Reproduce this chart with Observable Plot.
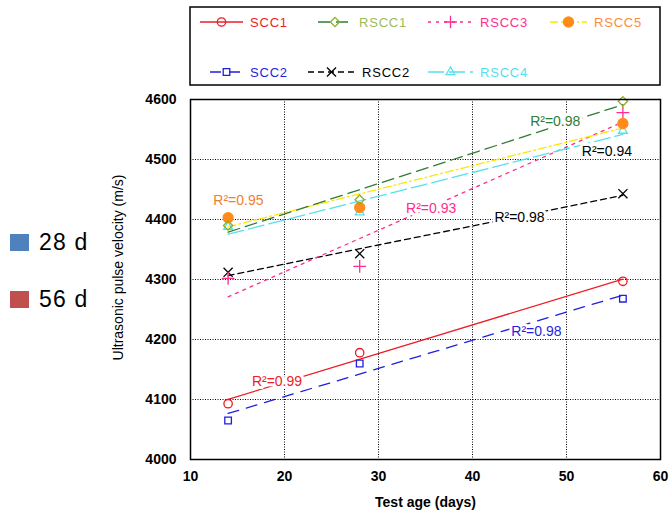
<!DOCTYPE html>
<html><head><meta charset="utf-8">
<script src="https://cdn.jsdelivr.net/npm/d3@7"></script>
<script src="https://cdn.jsdelivr.net/npm/@observablehq/plot@0.6"></script>
<style>
body{margin:0;background:#fff;}
#wrap{position:relative;width:671px;height:518px;font-family:"Liberation Sans",Arial,sans-serif;overflow:hidden;}
#chart{position:absolute;left:0;top:0;}
#legend{position:absolute;left:189px;top:6px;}
.age{position:absolute;left:10px;display:flex;align-items:center;font-family:"Liberation Sans",Arial,sans-serif;font-size:23px;letter-spacing:1.2px;}
.age span.sw{display:inline-block;width:19px;height:17px;margin-right:10px;}
</style></head><body>
<div id="wrap"><div id="chart"></div><svg id="legend" width="473" height="82"></svg></div>
<script>
// ---- data ----
const ages = [14, 28, 56];
const seriesNames = ["SCC1", "RSCC1", "RSCC3", "RSCC5", "SCC2", "RSCC2", "RSCC4"];
const scc1  = [4093, 4178, 4297];
const rscc1 = [4390, 4433, 4597];
const rscc3 = [4302, 4322, 4578];
const rscc5 = [4403, 4420, 4560];
const scc2  = [4065, 4160, 4268];
const rscc2 = [4312, 4343, 4443];
const rscc4 = [4388, 4412, 4548];
const seriesValues = [scc1, rscc1, rscc3, rscc5, scc2, rscc2, rscc4];

const r2Text = ["R²=0.99", "R²=0.98", "R²=0.93", "R²=0.95", "R²=0.98", "R²=0.98", "R²=0.94"];
const r2Series = ["SCC1", "RSCC1", "RSCC3", "RSCC5", "SCC2", "RSCC2", "RSCC4"];
const r2Age = [19.2, 48.8, 35.6, 15.1, 46.8, 45.0, 54.3];
const r2Vel = [4130, 4563, 4418, 4432, 4213, 4403, 4513];

const xTicks = [10, 20, 30, 40, 50, 60];
const yTicks = [4000, 4100, 4200, 4300, 4400, 4500, 4600];
const ageLabels = ["28 d", "56 d"];
const ageColors = ["#4f81bd", "#c0504d"];

// ---- styles ----
const style = {
  SCC1:  {line: "#ee1c25", mark: "#ee1c25", text: "#ee1c25", dash: null,       sym: "circle",   fill: "none", r2: "#ee1c25"},
  RSCC1: {line: "#2e7d32", mark: "#8fae2a", text: "#9bbb59", dash: "12,6",     sym: "diamond2", fill: "none", r2: "#2e7d32"},
  RSCC3: {line: "#ff2d8f", mark: "#ff2d8f", text: "#ff2d8f", dash: "3,5",      sym: "plus",     fill: "none", r2: "#ff2d8f"},
  RSCC5: {line: "#ffe600", mark: "#ff8c1a", text: "#ff8c3a", dash: "8,3,2,3",  sym: "circle",   fill: "#ff8c1a", r2: "#f07f30"},
  SCC2:  {line: "#1f1fe0", mark: "#1f1fe0", text: "#1f1fe0", dash: "11,8",     sym: "square2",  fill: "none", r2: "#1f1fe0"},
  RSCC2: {line: "#000000", mark: "#000000", text: "#000000", dash: "6,4",      sym: "times",    fill: "none", r2: "#000000"},
  RSCC4: {line: "#55e0f0", mark: "#55e0f0", text: "#55e0f0", dash: "16,5",     sym: "triangle2",fill: "none", r2: "#000000"}
};

const rows = [];
seriesNames.forEach((s, i) => ages.forEach((a, j) => rows.push({series: s, age: a, v: seriesValues[i][j]})));
const labels = r2Text.map((t, i) => ({text: t, series: r2Series[i], age: r2Age[i], v: r2Vel[i]}));
labels.forEach(d => { d.color = style[d.series].r2; });

const marks = [
  Plot.gridX(xTicks, {stroke: "black", strokeOpacity: 1, strokeDasharray: "1,1.5", strokeWidth: 1}),
  Plot.gridY(yTicks, {stroke: "black", strokeOpacity: 1, strokeDasharray: "1,1.5", strokeWidth: 1}),
];
const order = ["SCC1", "SCC2", "RSCC2", "RSCC3", "RSCC4", "RSCC5", "RSCC1"];
for (const s of order) {
  const st = style[s];
  marks.push(Plot.linearRegressionY(rows.filter(d => d.series === s), {
    x: "age", y: "v", stroke: st.line, strokeWidth: 1.3, ci: 0,
    strokeDasharray: st.dash == null ? undefined : st.dash
  }));
}
marks.push(Plot.text(labels, {x: "age", y: "v", text: "text", fill: "color", stroke: "white", strokeWidth: 6,
  fontSize: 14, letterSpacing: 0.5, fontFamily: "Liberation Sans, Arial, sans-serif"}));
for (const s of order) {
  const st = style[s];
  marks.push(Plot.dot(rows.filter(d => d.series === s), {
    x: "age", y: "v", symbol: st.sym, stroke: st.mark, fill: st.fill,
    r: st.fill === "none" ? 4.2 : 5, strokeWidth: 1.3
  }));
}
marks.push(Plot.frame({stroke: "black", strokeWidth: 1.5}));
marks.push(Plot.axisX(xTicks, {tickSize: 0, tickPadding: 12, fontWeight: "bold", fontSize: 14, tickFormat: d => String(d), label: null}));
marks.push(Plot.axisY(yTicks, {tickSize: 0, tickPadding: 14, fontWeight: "bold", fontSize: 14, tickFormat: d => String(d), label: null}));
marks.push(Plot.text(["Test age (days)"], {frameAnchor: "bottom", dy: 47, fontWeight: "bold", fontSize: 14}));
marks.push(Plot.text(["Ultrasonic pulse velocity (m/s)"], {frameAnchor: "left", textAnchor: "middle", dx: -72, dy: -12, rotate: -90,
  fontSize: 14, fontFamily: "Liberation Sans Narrow, Liberation Sans, Arial, sans-serif"}));

const chart = Plot.plot({
  width: 671, height: 518,
  marginLeft: 190, marginRight: 11, marginTop: 99, marginBottom: 59,
  x: {domain: [10, 60]},
  y: {domain: [4000, 4600]},
  style: {fontFamily: "Liberation Sans, Arial, sans-serif", fontSize: "13px", background: "white", color: "black"},
  marks
});
document.getElementById("chart").appendChild(chart);

// ---- series legend box ----
const lg = d3.select("#legend");
lg.append("rect").attr("x", 1).attr("y", 1).attr("width", 470).attr("height", 78)
  .attr("fill", "white").attr("stroke", "black").attr("stroke-width", 1.5);
const slots = [
  {x0: 11, x1: 54, y: 16}, {x0: 129, x1: 163, y: 16}, {x0: 239, x1: 284, y: 16}, {x0: 361, x1: 398, y: 16},
  {x0: 21, x1: 54, y: 66}, {x0: 119, x1: 166, y: 66}, {x0: 239, x1: 284, y: 66}
];
const symMap = {circle: d3.symbolCircle, diamond2: d3.symbolDiamond2, plus: d3.symbolPlus,
  square2: d3.symbolSquare2, times: d3.symbolTimes, triangle2: d3.symbolTriangle2};
seriesNames.forEach((s, i) => {
  const st = style[s], p = slots[i], cx = (p.x0 + p.x1) / 2;
  lg.append("line").attr("x1", p.x0).attr("x2", p.x1).attr("y1", p.y).attr("y2", p.y)
    .attr("stroke", st.line).attr("stroke-width", 1.3).attr("stroke-dasharray", st.dash);
  lg.append("path").attr("transform", `translate(${cx},${p.y})`)
    .attr("d", d3.symbol(symMap[st.sym], st.fill === "none" ? 55 : 80)())
    .attr("fill", st.fill).attr("stroke", st.mark).attr("stroke-width", 1.3);
  lg.append("text").attr("x", p.x1 + 7).attr("y", p.y).attr("dy", "0.35em")
    .attr("font-family", "Liberation Sans, Arial, sans-serif").attr("font-size", 13).attr("letter-spacing", 0.8)
    .attr("fill", st.text).text(s);
});

// ---- age legend ----
const wrap = document.getElementById("wrap");
ageLabels.forEach((t, i) => {
  const d = document.createElement("div");
  d.className = "age";
  d.style.top = (229 + i * 57) + "px";
  d.innerHTML = `<span class="sw" style="background:${ageColors[i]}"></span>${t}`;
  wrap.appendChild(d);
});
</script>
</body></html>
